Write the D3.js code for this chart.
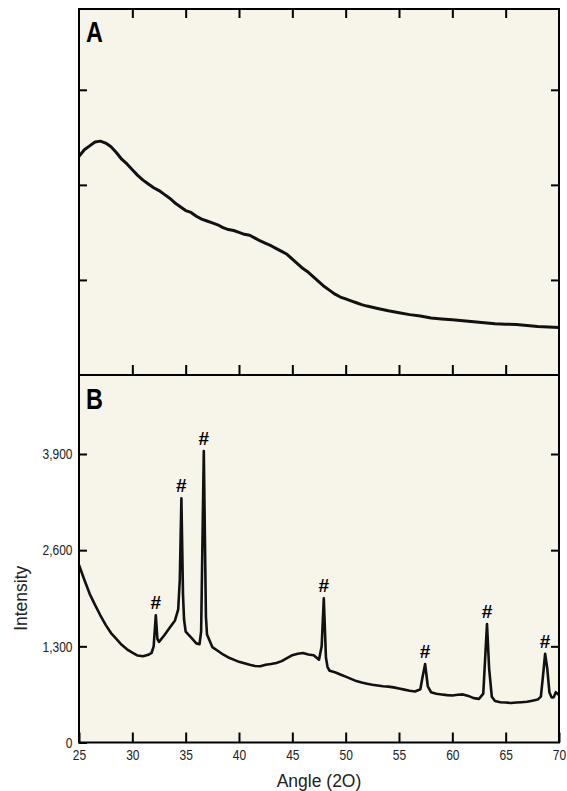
<!DOCTYPE html>
<html>
<head>
<meta charset="utf-8">
<script src="https://cdn.jsdelivr.net/npm/d3@7"></script>
<style>
  body { margin: 0; background: #ffffff; }
  svg { display: block; }
</style>
</head>
<body>
<div id="plot-container"></div>
<script>

// panel A: amorphous hump (arbitrary units, no labels on y)
var anglesA = [25.0, 25.5, 26.0, 26.5, 27.0, 27.5, 28.0, 28.5, 29.0, 29.5, 30.0, 30.5, 31.0, 31.5,
  32.0, 32.5, 33.0, 33.5, 34.0, 34.5, 35.0, 35.5, 36.0, 36.5, 37.0, 37.5, 38.0, 38.5, 39.0, 39.5,
  40.0, 40.5, 41.0, 41.5, 42.0, 42.5, 43.0, 43.5, 44.0, 44.5, 45.0, 45.5, 46.0, 46.5, 47.0, 47.5,
  48.0, 48.5, 49.0, 49.5, 50.0, 50.5, 51.0, 51.5, 52.0, 53.0, 54.0, 55.0, 56.0, 57.0, 58.0, 59.0,
  60.0, 61.0, 62.0, 63.0, 64.0, 65.0, 66.0, 67.0, 68.0, 69.0, 70.0];
var valuesA = [2.30, 2.37, 2.41, 2.45, 2.46, 2.44, 2.40, 2.34, 2.27, 2.22, 2.16, 2.10, 2.05, 2.01,
  1.97, 1.94, 1.90, 1.86, 1.81, 1.77, 1.73, 1.71, 1.67, 1.64, 1.62, 1.60, 1.58, 1.55, 1.53, 1.52,
  1.50, 1.48, 1.47, 1.44, 1.41, 1.385, 1.36, 1.33, 1.30, 1.27, 1.22, 1.17, 1.12, 1.08, 1.03, 0.98,
  0.93, 0.89, 0.85, 0.82, 0.80, 0.78, 0.76, 0.74, 0.725, 0.70, 0.675, 0.655, 0.635, 0.62, 0.60, 0.59,
  0.58, 0.57, 0.56, 0.55, 0.54, 0.535, 0.53, 0.52, 0.51, 0.505, 0.50];
var ticksA = [1, 2, 3];

// panel B: crystalline pattern
var anglesB = [25.0, 25.5, 26.0, 26.5, 27.0, 27.5, 28.0, 28.5, 29.0, 29.5, 30.0, 30.5, 31.0, 31.5,
  31.8, 32.0, 32.2, 32.35, 32.5, 33.0, 33.5, 34.0, 34.3, 34.45, 34.6, 34.75, 34.85, 35.0, 35.5,
  36.0, 36.3, 36.45, 36.7, 36.9, 37.0, 37.5, 38.0, 38.5, 39.0, 39.5, 40.0, 40.5, 41.0, 41.5,
  42.0, 42.5, 43.0, 43.5, 44.0, 44.5, 45.0, 45.5, 46.0, 46.5, 47.0, 47.5, 47.75, 47.95, 48.15,
  48.3, 48.5, 49.0, 49.5, 50.0, 50.5, 51.0, 51.5, 52.0, 52.5, 53.0, 53.5, 54.0, 54.5, 55.0,
  55.5, 56.0, 56.5, 57.0, 57.2, 57.45, 57.7, 58.0, 58.5, 59.0, 59.5, 60.0, 60.5, 61.0, 61.5,
  62.0, 62.5, 62.9, 63.1, 63.25, 63.45, 63.7, 64.0, 64.5, 65.0, 65.5, 66.0, 66.5, 67.0, 67.5,
  68.0, 68.3, 68.5, 68.7, 68.9, 69.1, 69.3, 69.5, 69.7, 70.0];
var intensityB = [2400, 2200, 2010, 1860, 1720, 1590, 1480, 1400, 1320, 1260, 1215, 1175, 1165, 1185,
  1210, 1300, 1720, 1400, 1360, 1450, 1550, 1650, 1800, 2200, 3300, 2000, 1660, 1500, 1420,
  1340, 1330, 1500, 3940, 1700, 1460, 1290, 1240, 1190, 1150, 1120, 1090, 1070, 1050, 1035,
  1030, 1050, 1060, 1075, 1100, 1140, 1180, 1200, 1210, 1190, 1180, 1120, 1300, 1950, 1150,
  1020, 970, 950, 920, 890, 860, 830, 810, 795, 780, 770, 760, 755, 745, 730,
  715, 700, 690, 720, 880, 1060, 760, 680, 660, 650, 640, 635, 645, 650, 630,
  600, 590, 660, 1200, 1600, 1000, 620, 560, 545, 540, 535, 540, 545, 550, 565,
  580, 620, 900, 1200, 1000, 680, 610, 610, 680, 640];
var ticksB = [0, 1300, 2600, 3900];
var peakAngles = [32.2, 34.6, 36.7, 47.95, 57.45, 63.25, 68.7];

var angleTicks = [25, 30, 35, 40, 45, 50, 55, 60, 65, 70];
var innerAngleTicks = [30, 35, 40, 45, 50, 55, 60, 65];

var W = 567, H = 791;
var bg = "#f7f4ea";
var narrow = 0.8;   // squeeze Liberation Sans to look like a condensed face

var svg = d3.select("#plot-container")
  .append("svg")
  .attr("width", W)
  .attr("height", H);

var x = d3.scaleLinear().domain([25, 70]).range([79, 559]);
var yA = d3.scaleLinear().domain([0, 3.85]).range([375, 9]);
var yB = d3.scaleLinear().domain([0, 3900]).range([742.5, 454]);

function styleAxis(g){
  g.select(".domain").remove();
  g.selectAll(".tick line").attr("stroke", "#000").attr("stroke-width", 2);
  g.selectAll(".tick text")
    .attr("fill", "#222")
    .attr("x", function(){ return (+d3.select(this).attr("x") || 0) / narrow; })
    .attr("transform", "scale(" + narrow + ",1)")
    .style("font-family", "'Liberation Sans', Arial, sans-serif")
    .style("font-size", "15px");
}

// backgrounds
svg.append("rect")
  .attr("x", x(25)).attr("y", yA(3.85))
  .attr("width", x(70) - x(25)).attr("height", yA(0) - yA(3.85))
  .attr("fill", bg);
svg.append("rect")
  .attr("x", x(25)).attr("y", yA(0))
  .attr("width", x(70) - x(25)).attr("height", yB(0) - yA(0))
  .attr("fill", bg);

// panel A ticks
svg.append("g").attr("transform", "translate(0," + yA(3.85) + ")")
  .call(d3.axisTop(x).tickValues(innerAngleTicks).tickSize(-9).tickFormat(""))
  .call(styleAxis);
svg.append("g").attr("transform", "translate(0," + yA(0) + ")")
  .call(d3.axisBottom(x).tickValues(innerAngleTicks).tickSize(-10).tickFormat(""))
  .call(styleAxis);
svg.append("g").attr("transform", "translate(" + x(25) + ",0)")
  .call(d3.axisLeft(yA).tickValues(ticksA).tickSize(-8).tickFormat(""))
  .call(styleAxis);
svg.append("g").attr("transform", "translate(" + x(70) + ",0)")
  .call(d3.axisRight(yA).tickValues(ticksA).tickSize(-8).tickFormat(""))
  .call(styleAxis);

// panel B axes
svg.append("g").attr("transform", "translate(0," + yB(0) + ")")
  .call(d3.axisBottom(x).tickValues(angleTicks).tickSize(-10).tickPadding(7))
  .call(styleAxis);
svg.append("g").attr("transform", "translate(" + x(25) + ",0)")
  .call(d3.axisLeft(yB).tickValues(ticksB).tickSize(-8).tickPadding(6.5).tickFormat(d3.format(",")))
  .call(styleAxis);
svg.append("g").attr("transform", "translate(" + x(70) + ",0)")
  .call(d3.axisRight(yB).tickValues(ticksB.slice(1)).tickSize(-8).tickFormat(""))
  .call(styleAxis);

// the two curves
var lineA = d3.line()
  .x(function(d, i){ return x(anglesA[i]); })
  .y(function(d){ return yA(d); });
var lineB = d3.line()
  .x(function(d, i){ return x(anglesB[i]); })
  .y(function(d){ return yB(d); });

svg.append("path")
  .attr("d", lineA(valuesA))
  .attr("fill", "none")
  .attr("stroke", "#111")
  .attr("stroke-width", 3)
  .attr("stroke-linejoin", "round");

svg.append("path")
  .attr("d", lineB(intensityB))
  .attr("fill", "none")
  .attr("stroke", "#111")
  .attr("stroke-width", 2.6)
  .attr("stroke-linejoin", "round");

// peak markers
svg.selectAll(".peak")
  .data(peakAngles)
  .enter()
  .append("text")
  .attr("class", "peak")
  .attr("x", function(d){ return x(d); })
  .attr("y", function(d){ return yB(intensityB[anglesB.indexOf(d)]) - 6; })
  .attr("text-anchor", "middle")
  .style("font-family", "'Liberation Sans', Arial, sans-serif")
  .style("font-weight", "bold")
  .style("font-size", "19px")
  .attr("fill", "#000")
  .text("#");

// panel borders
svg.append("rect")
  .attr("x", x(25)).attr("y", yA(3.85))
  .attr("width", x(70) - x(25)).attr("height", yA(0) - yA(3.85))
  .attr("fill", "none").attr("stroke", "#000").attr("stroke-width", 2);
svg.append("rect")
  .attr("x", x(25)).attr("y", yA(0))
  .attr("width", x(70) - x(25)).attr("height", yB(0) - yA(0))
  .attr("fill", "none").attr("stroke", "#000").attr("stroke-width", 2);

// panel letters
svg.append("text")
  .attr("transform", "translate(86,42) scale(0.78,1)")
  .style("font-family", "'Liberation Sans', Arial, sans-serif")
  .style("font-weight", "bold")
  .style("font-size", "30px")
  .text("A");
svg.append("text")
  .attr("transform", "translate(86,409) scale(0.78,1)")
  .style("font-family", "'Liberation Sans', Arial, sans-serif")
  .style("font-weight", "bold")
  .style("font-size", "30px")
  .text("B");

// axis titles
svg.append("text")
  .attr("transform", "translate(27," + yB(1950) + ") rotate(-90)")
  .attr("text-anchor", "middle")
  .style("font-family", "'Liberation Sans', Arial, sans-serif")
  .style("font-size", "17.5px")
  .attr("fill", "#222")
  .text("Intensity");
svg.append("text")
  .attr("x", (x(25) + x(70)) / 2)
  .attr("y", 787)
  .attr("text-anchor", "middle")
  .style("font-family", "'Liberation Sans', Arial, sans-serif")
  .style("font-size", "17.5px")
  .attr("fill", "#222")
  .text("Angle (2O)");

</script>
</body>
</html>
